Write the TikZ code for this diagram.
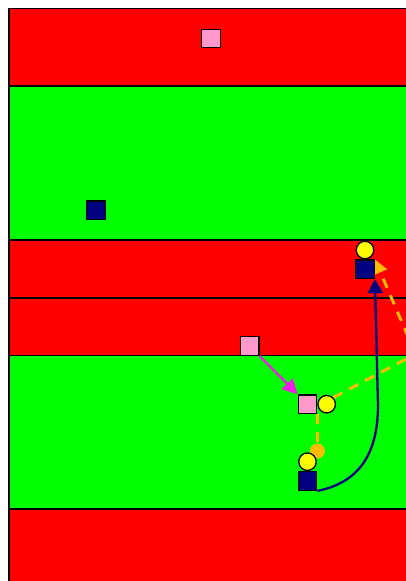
\documentclass[tikz,border=0pt]{standalone}
\usetikzlibrary{arrows.meta}
\pgfdeclarelayer{bands}
\pgfdeclarelayer{links}
\pgfsetlayers{bands,links,main}
\definecolor{bandred}{RGB}{255,0,0}
\definecolor{bandgreen}{RGB}{0,255,0}
\definecolor{pinksq}{RGB}{255,153,204}
\definecolor{navysq}{RGB}{0,0,128}
\definecolor{yellowdot}{RGB}{255,255,0}
\definecolor{amber}{RGB}{255,188,0}
\definecolor{magentaln}{RGB}{240,30,230}
\begin{document}
\begin{tikzpicture}[x=1pt,y=-1pt,
  band/.style={draw=black,line width=1.4pt},
  sq/.style={rectangle,draw=black,line width=1.3pt,minimum size=18.5pt,inner sep=0pt},
  pinkbox/.style={sq,fill=pinksq},
  navybox/.style={sq,fill=navysq},
  yellowdisc/.style={circle,draw=black,line width=1.3pt,fill=yellowdot,minimum size=17.5pt,inner sep=0pt},
  amberdisc/.style={circle,fill=amber,minimum size=15pt,inner sep=0pt},
  amberlink/.style={draw=amber,line width=2.9pt,dash pattern=on 10pt off 8pt},
  magentalink/.style={draw=magentaln,line width=2.3pt,-{Triangle[length=15pt,width=15pt]}},
  navylink/.style={draw=navysq,line width=2.3pt,-{Triangle[length=14pt,width=15pt]}}]
\useasboundingbox (0,0) rectangle (406,581);
\clip (0,0) rectangle (406,581);

% nodes
\node[pinkbox] (pinkA) at (211,38.5) {};
\node[navybox] (navyA) at (96,210.3) {};
\node[yellowdisc] (yellowB) at (365,250) {};
\node[navybox] (navyB) at (365,269.3) {};
\node[pinkbox] (pinkC) at (249.7,346) {};
\node[pinkbox] (pinkD) at (307.5,404.2) {};
\node[yellowdisc] (yellowD) at (326.7,404.2) {};
\node[amberdisc] (amberE) at (317.3,451) {};
\node[yellowdisc] (yellowF) at (307.5,461.7) {};
\node[navybox] (navyF) at (307.5,481) {};
\coordinate (hub) at (415.5,354);

% bands
\begin{pgfonlayer}{bands}
\draw[band,fill=bandred] (9,8.5) rectangle (440,86);
\draw[band,fill=bandgreen] (9,86) rectangle (440,240);
\draw[band,fill=bandred] (9,240) rectangle (440,298);
\draw[band,fill=bandred] (9,298) rectangle (440,355.7);
\draw[band,fill=bandgreen] (9,355.7) rectangle (440,509);
\draw[band,fill=bandred] (9,509) rectangle (440,620);
\end{pgfonlayer}

% connectors
\begin{pgfonlayer}{links}
\draw[amberlink] (yellowD.north east) -- (hub);
\draw[amberlink,-{Triangle[length=14pt,width=14pt]}] (hub) -- (navyB.north east);
\draw[amberlink] (pinkD.south east) -- (amberE);
\draw[magentalink] (pinkC) -- (pinkD);
\draw[navylink] (navyF.south east) .. controls (362,482) and (378,450) .. (378,405) -- (navyB.south east);
\end{pgfonlayer}
\end{tikzpicture}
\end{document}
